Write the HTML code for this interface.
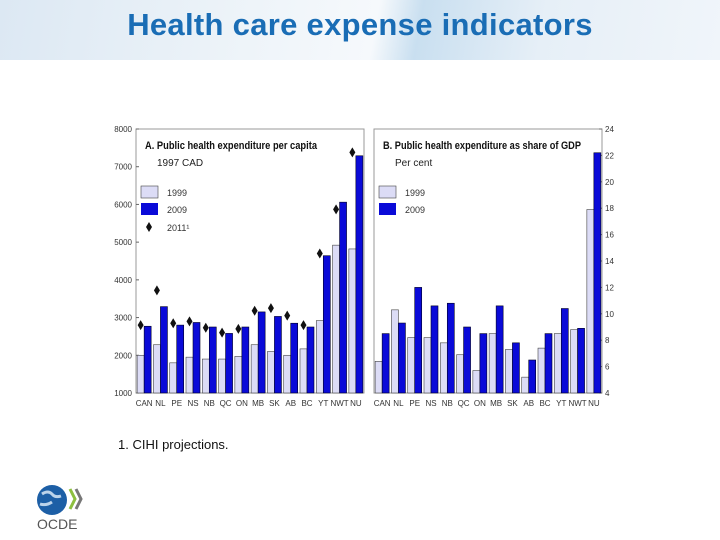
<!DOCTYPE html>
<html><head><meta charset="utf-8">
<style>
html,body{margin:0;padding:0;width:720px;height:540px;background:#fff;overflow:hidden;font-family:"Liberation Sans",sans-serif;}
#hdr{position:absolute;left:0;top:0;width:720px;height:60px;background:linear-gradient(100deg,#dce8f3 0%,#eef4f9 35%,#f6f9fc 52%,#c9dff0 58%,#e6eff7 75%,#f0f5fa 100%);}
#title{position:absolute;left:0;top:7px;width:720px;text-align:center;font-size:31px;font-weight:bold;color:#1a6db5;letter-spacing:0.3px;}
#foot{position:absolute;left:118px;top:437px;font-size:13px;color:#111;}
</style></head><body>
<div id="hdr"></div>
<div id="title">Health care expense indicators</div>
<svg id="chart" width="720" height="540" style="position:absolute;left:0;top:0"></svg>
<div id="foot">1. CIHI projections.</div>
<svg width="60" height="50" style="position:absolute;left:34px;top:482px">
<circle cx="18" cy="18" r="15" fill="#1d5fa6"/><path d="M8 12 q6 -4 10 0 q3 4 9 2 M6 22 q6 2 12 -2" stroke="#bcd3ea" stroke-width="3" fill="none"/>
<path d="M36 7 l5 10 l-5 10" stroke="#8cbf3f" stroke-width="3" fill="none"/><path d="M42 7 l5 10 l-5 10" stroke="#777" stroke-width="3" fill="none"/>
<text x="3" y="47" font-size="14" fill="#555" font-family="Liberation Sans">OCDE</text></svg>
<script>
const categories=["CAN","NL","PE","NS","NB","QC","ON","MB","SK","AB","BC","YT","NWT","NU"];
const aVal1999=[2000,2280,1800,1950,1900,1900,1970,2280,2100,2000,2170,2920,4920,4820];
const aVal2009=[2770,3290,2800,2870,2750,2580,2750,3150,3030,2850,2750,4640,6060,7290];
const aVal2011=[2800,3720,2850,2900,2730,2600,2700,3180,3250,3050,2800,4700,5870,7380];
const aTicks=[1000,2000,3000,4000,5000,6000,7000,8000];
const bVal1999=[6.4,10.3,8.2,8.2,7.8,6.9,5.7,8.5,7.3,5.2,7.4,8.5,8.8,17.9];
const bVal2009=[8.5,9.3,12.0,10.6,10.8,9.0,8.5,10.6,7.8,6.5,8.5,10.4,8.9,22.2];
const bTicks=[4,6,8,10,12,14,16,18,20,22,24];
const svg=document.getElementById('chart');
const NS='http://www.w3.org/2000/svg';
function mk(tag,at,txt){const e=document.createElementNS(NS,tag);for(const k in at)e.setAttribute(k,at[k]);if(txt!=null)e.textContent=txt;svg.appendChild(e);return e;}
const C1='#dcdcf6',C2='#0a0ad8';
function panel(x0,x1,top,bot,ymin,ymax,v1,v2,v3,ticks,right,title,sub,leg){
  const y=v=>bot-(v-ymin)/(ymax-ymin)*(bot-top);
  const bw=(x1-x0)/categories.length;
  let e=mk('rect',{x:x0,y:top,width:x1-x0,height:bot-top,fill:'#fff',stroke:'#999','stroke-width':1});
  
  ticks.forEach(t=>{const tx=right?x1+3:x0-4;
    e=mk('text',{x:tx,y:y(t)+3,'font-size':8,fill:'#333','text-anchor':right?'start':'end'},String(t));
    
    e=mk('line',{x1:right?x1:x0,x2:right?x1-3:x0+3,y1:y(t),y2:y(t),stroke:'#666'});
    });
  categories.forEach((c,i)=>{const cx=x0+bw*i+bw/2;
    e=mk('rect',{x:cx-7,y:y(v1[i]),width:7,height:bot-y(v1[i]),fill:C1,stroke:'#444','stroke-width':0.6});
    
    e=mk('rect',{x:cx,y:y(v2[i]),width:7,height:bot-y(v2[i]),fill:C2,stroke:'#002','stroke-width':0.6});
    
    if(v3){const py=y(v3[i]);
      e=mk('path',{d:`M${cx-3.5},${py-5} l3,5 l-3,5 l-3,-5z`,fill:'#111'});
      }
    e=mk('text',{x:cx,y:bot+13,'font-size':8,fill:'#333','text-anchor':'middle'},c);
    });
  e=mk('text',{x:x0+9,y:top+20,'font-size':11,'font-weight':'bold',fill:'#111',textLength:right?198:172,lengthAdjust:'spacingAndGlyphs'},title);
  
  e=mk('text',{x:x0+21,y:top+37,'font-size':10,fill:'#222'},sub);
  
  const lx=x0+5;
  e=mk('rect',{x:lx,y:top+57,width:17,height:12,fill:C1,stroke:'#444','stroke-width':0.6});
  
  e=mk('text',{x:lx+26,y:top+67,'font-size':9,fill:'#333'},'1999');
  
  e=mk('rect',{x:lx,y:top+74,width:17,height:12,fill:C2});
  
  e=mk('text',{x:lx+26,y:top+84,'font-size':9,fill:'#333'},'2009');
  
  if(leg){e=mk('path',{d:`M${lx+8},${top+93} l3,5 l-3,5 l-3,-5z`,fill:'#111'});
    
    e=mk('text',{x:lx+26,y:top+102,'font-size':9,fill:'#333'},'2011¹');
    }
}
panel(136,364,129,393,1000,8000,aVal1999,aVal2009,aVal2011,aTicks,false,'A. Public health expenditure per capita','1997 CAD',true);
panel(374,602,129,393,4,24,bVal1999,bVal2009,null,bTicks,true,'B. Public health expenditure as share of GDP','Per cent',false);
</script>
</body></html>
